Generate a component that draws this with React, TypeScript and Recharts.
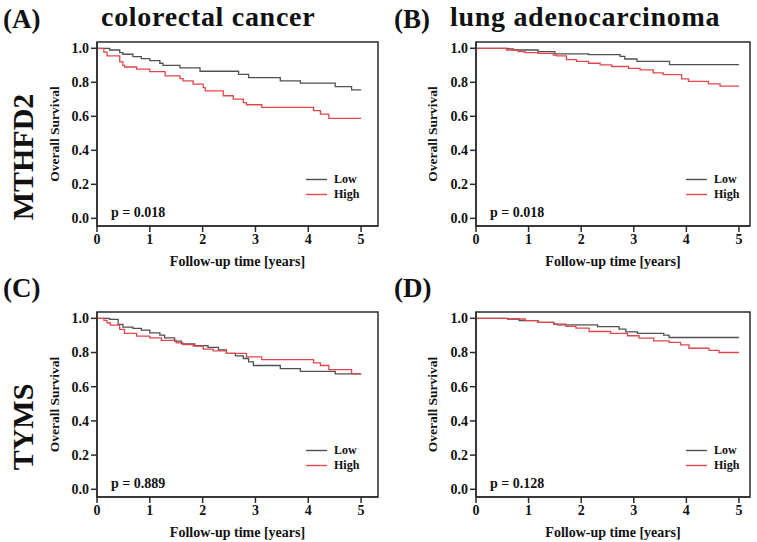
import { Label, Legend, Line, LineChart, ReferenceArea, XAxis, YAxis } from "recharts";

const SERIF = '"Liberation Serif", "Times New Roman", serif';
const LOW_COLOR = "#505050";
const HIGH_COLOR = "#e2474b";
const FRAME = "#2b2b2b";

const yearTicks = [0, 1, 2, 3, 4, 5];
const survivalTicks = [0, 0.2, 0.4, 0.6, 0.8, 1.0];
const groups = ["Low", "High"];
const groupColors = [LOW_COLOR, HIGH_COLOR];

// (A) colorectal cancer, MTHFD2
const crcMthfd2LowTime = [0, 0.24, 0.43, 0.49, 0.68, 0.84, 1.0, 1.19, 1.25, 1.57, 1.95, 2.68, 2.87, 3.47, 3.85, 4.51, 4.82, 5.0];
const crcMthfd2LowSurv = [1.0, 0.99, 0.975, 0.965, 0.951, 0.939, 0.928, 0.912, 0.9, 0.885, 0.865, 0.847, 0.828, 0.808, 0.795, 0.775, 0.755, 0.755];
const crcMthfd2HighTime = [0, 0.13, 0.19, 0.43, 0.49, 0.52, 0.75, 1.0, 1.29, 1.57, 1.63, 1.82, 2.01, 2.05, 2.39, 2.58, 2.77, 2.83, 3.12, 4.1, 4.23, 4.39, 5.0];
const crcMthfd2HighSurv = [1.0, 0.978, 0.955, 0.92, 0.9, 0.89, 0.877, 0.863, 0.838, 0.822, 0.808, 0.789, 0.769, 0.75, 0.721, 0.701, 0.681, 0.668, 0.652, 0.633, 0.613, 0.588, 0.588];

// (B) lung adenocarcinoma, MTHFD2
const luadMthfd2LowTime = [0, 0.61, 0.71, 1.18, 1.5, 2.14, 2.74, 2.83, 3.06, 3.68, 5.0];
const luadMthfd2LowSurv = [1.0, 0.996, 0.99, 0.98, 0.967, 0.963, 0.953, 0.937, 0.923, 0.904, 0.904];
const luadMthfd2HighTime = [0, 0.58, 0.8, 0.93, 1.18, 1.47, 1.53, 1.72, 1.91, 2.14, 2.36, 2.58, 2.9, 3.12, 3.37, 3.56, 3.91, 4.04, 4.42, 4.64, 5.0];
const luadMthfd2HighSurv = [1.0, 0.99, 0.98, 0.975, 0.97, 0.96, 0.955, 0.933, 0.923, 0.912, 0.903, 0.893, 0.882, 0.873, 0.855, 0.845, 0.82, 0.806, 0.791, 0.777, 0.777];

// (C) colorectal cancer, TYMS
const crcTymsLowTime = [0, 0.24, 0.4, 0.49, 0.68, 0.84, 1.0, 1.19, 1.28, 1.47, 1.6, 1.85, 2.1, 2.3, 2.45, 2.62, 2.77, 2.87, 2.96, 3.47, 3.85, 4.51, 5.0];
const crcTymsLowSurv = [1.0, 0.994, 0.965, 0.949, 0.941, 0.931, 0.915, 0.902, 0.886, 0.867, 0.85, 0.84, 0.83, 0.815, 0.795, 0.78, 0.765, 0.745, 0.724, 0.706, 0.69, 0.675, 0.675];
const crcTymsHighTime = [0, 0.13, 0.19, 0.25, 0.43, 0.52, 0.75, 1.0, 1.22, 1.5, 1.63, 1.82, 2.01, 2.2, 2.45, 2.83, 3.12, 4.1, 4.23, 4.39, 4.82, 5.0];
const crcTymsHighSurv = [1.0, 0.988, 0.974, 0.96, 0.935, 0.912, 0.896, 0.886, 0.871, 0.857, 0.847, 0.838, 0.82, 0.81, 0.795, 0.775, 0.759, 0.74, 0.724, 0.7, 0.675, 0.675];

// (D) lung adenocarcinoma, TYMS
const luadTymsLowTime = [0, 0.6, 0.82, 1.18, 1.48, 1.55, 2.31, 2.72, 2.85, 3.07, 3.57, 3.67, 5.0];
const luadTymsLowSurv = [1.0, 0.996, 0.986, 0.976, 0.966, 0.962, 0.951, 0.937, 0.921, 0.912, 0.902, 0.888, 0.888];
const luadTymsHighTime = [0, 0.6, 0.94, 1.18, 1.48, 1.71, 1.9, 2.15, 2.56, 2.88, 3.1, 3.38, 3.67, 3.89, 4.05, 4.43, 4.62, 5.0];
const luadTymsHighSurv = [1.0, 0.996, 0.986, 0.976, 0.966, 0.953, 0.943, 0.923, 0.912, 0.898, 0.884, 0.868, 0.859, 0.845, 0.825, 0.813, 0.8, 0.8];

const Y_MIN = -0.045;
const Y_MAX = 1.037;

type Point = { t: number; s: number };

const toCurve = (time: number[], surv: number[]): Point[] => time.map((t, i) => ({ t, s: surv[i] }));

const tickStyle = { fill: "#111", fontSize: 14, fontWeight: 700, fontFamily: SERIF };

// fixed Low/High order and colours (recharts would sort the payload by name)
function KmLegend() {
  return (
    <div style={{ fontFamily: SERIF, fontWeight: 700, fontSize: 12, color: "#111" }}>
      {groups.map((name, i) => (
        <div key={name} style={{ display: "flex", alignItems: "center", height: 15 }}>
          <svg width={21} height={15} style={{ marginRight: 7, display: "block" }}>
            <line x1={0} x2={21} y1={7.5} y2={7.5} stroke={groupColors[i]} strokeWidth={1.4} />
          </svg>
          <span>{name}</span>
        </div>
      ))}
    </div>
  );
}

type PanelProps = {
  low: Point[];
  high: Point[];
  xMax: number;
  pValue: string;
  width: number;
  height: number;
  yAxisWidth: number;
  rightMargin: number;
  xAxisHeight: number;
  yLabelDx: number;
  legendTop: number;
};

function KmPanel(p: PanelProps) {
  return (
    <LineChart width={p.width} height={p.height} margin={{ top: 42, right: p.rightMargin, left: 0, bottom: 0 }}>
      <XAxis
        type="number"
        dataKey="t"
        domain={[0, p.xMax]}
        ticks={yearTicks}
        allowDataOverflow
        height={p.xAxisHeight}
        tickSize={6}
        stroke={FRAME}
        strokeWidth={1.5}
        tick={tickStyle}
      >
        <Label value="Follow-up time [years]" position="center" dy={13} fill="#111" fontSize={14} fontWeight={700} fontFamily={SERIF} />
      </XAxis>
      <YAxis
        type="number"
        domain={[Y_MIN, Y_MAX]}
        ticks={survivalTicks}
        allowDataOverflow
        width={p.yAxisWidth}
        tickSize={6}
        stroke={FRAME}
        strokeWidth={1.5}
        tick={tickStyle}
        tickFormatter={(v: number) => v.toFixed(1)}
      >
        <Label value="Overall Survival" angle={-90} position="center" dx={p.yLabelDx} fill="#111" fontSize={13.5} fontWeight={700} fontFamily={SERIF} />
      </YAxis>
      <ReferenceArea x1={0} x2={p.xMax} y1={Y_MIN} y2={Y_MAX} fill="none" stroke={FRAME} strokeWidth={1.5}>
        <Label value={`p = ${p.pValue}`} position="insideBottomLeft" offset={9} dx={5} fill="#111" fontSize={14} fontWeight={700} fontFamily={SERIF} />
      </ReferenceArea>
      <Line data={p.low} dataKey="s" name={groups[0]} type="stepAfter" stroke={LOW_COLOR} strokeWidth={1.3} dot={false} isAnimationActive={false} />
      <Line data={p.high} dataKey="s" name={groups[1]} type="stepAfter" stroke={HIGH_COLOR} strokeWidth={1.3} dot={false} isAnimationActive={false} />
      <Legend
        layout="vertical"
        align="center"
        verticalAlign="middle"
        content={<KmLegend />}
        wrapperStyle={{ left: 306, top: p.legendTop, width: 60, height: 30 }}
      />
    </LineChart>
  );
}

const titleStyle = { fontFamily: SERIF, fontWeight: 700, fill: "#111" } as const;

export default function App() {
  return (
    <div style={{ position: "absolute", left: 0, top: 0, width: 757, height: 542, background: "#fff" }}>
      <svg width={757} height={542} style={{ position: "absolute", left: 0, top: 0 }}>
        <text x={3} y={28} fontSize={27} {...titleStyle}>(A)</text>
        <text x={101} y={26} fontSize={28} letterSpacing={0.7} {...titleStyle}>colorectal cancer</text>
        <text x={394} y={28} fontSize={27} {...titleStyle}>(B)</text>
        <text x={450} y={26} fontSize={28} letterSpacing={0.7} {...titleStyle}>lung adenocarcinoma</text>
        <text x={3} y={297} fontSize={27} {...titleStyle}>(C)</text>
        <text x={394} y={297} fontSize={27} {...titleStyle}>(D)</text>
        <text x={33} y={157} fontSize={30} textAnchor="middle" transform="rotate(-90 33 157)" {...titleStyle}>MTHFD2</text>
        <text x={33} y={427} fontSize={30} textAnchor="middle" transform="rotate(-90 33 427)" {...titleStyle}>TYMS</text>
      </svg>
      <div style={{ position: "absolute", left: 0, top: 0 }}>
        <KmPanel low={toCurve(crcMthfd2LowTime, crcMthfd2LowSurv)} high={toCurve(crcMthfd2HighTime, crcMthfd2HighSurv)} xMax={5.32} pValue="0.018"
          width={380} height={270} yAxisWidth={97} rightMargin={2} xAxisHeight={44} yLabelDx={6} legendTop={172} />
      </div>
      <div style={{ position: "absolute", left: 380, top: 0 }}>
        <KmPanel low={toCurve(luadMthfd2LowTime, luadMthfd2LowSurv)} high={toCurve(luadMthfd2HighTime, luadMthfd2HighSurv)} xMax={5.21} pValue="0.018"
          width={377} height={270} yAxisWidth={96} rightMargin={7} xAxisHeight={44} yLabelDx={4} legendTop={172} />
      </div>
      <div style={{ position: "absolute", left: 0, top: 270 }}>
        <KmPanel low={toCurve(crcTymsLowTime, crcTymsLowSurv)} high={toCurve(crcTymsHighTime, crcTymsHighSurv)} xMax={5.32} pValue="0.889"
          width={380} height={272} yAxisWidth={97} rightMargin={2} xAxisHeight={45} yLabelDx={6} legendTop={173} />
      </div>
      <div style={{ position: "absolute", left: 380, top: 270 }}>
        <KmPanel low={toCurve(luadTymsLowTime, luadTymsLowSurv)} high={toCurve(luadTymsHighTime, luadTymsHighSurv)} xMax={5.21} pValue="0.128"
          width={377} height={272} yAxisWidth={96} rightMargin={7} xAxisHeight={45} yLabelDx={4} legendTop={173} />
      </div>
    </div>
  );
}
